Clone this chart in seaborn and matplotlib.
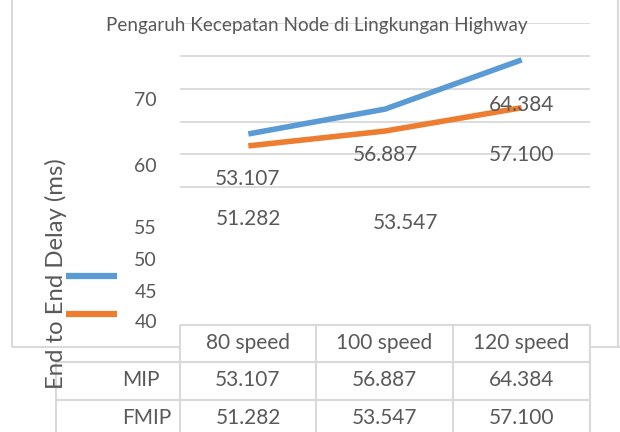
import matplotlib
matplotlib.use("Agg")
import matplotlib.pyplot as plt
from matplotlib.lines import Line2D
import seaborn as sns
import pandas as pd

# ---- data ----
categories = ["80 speed", "100 speed", "120 speed"]
series_names = ["MIP", "FMIP"]
mip_values = [53.107, 56.887, 64.384]
fmip_values = [51.282, 53.547, 57.100]
ytick_values = [45, 50, 55, 60, 65, 70]
ytick_labels = ["70", "60", "55", "50", "45", "40"]
title = "Pengaruh Kecepatan Node di Lingkungan Highway"
ylabel = "End to End Delay (ms)"

colors = ["#5B9BD5", "#ED7D31"]
FONT = ["Lato", "DejaVu Sans"]
TXT = "#595959"
GRID = "#D9D9D9"

sns.set_theme(style="white")
plt.rcParams["font.family"] = FONT

W, H = 620, 432
fig = plt.figure(figsize=(W / 100, H / 100), dpi=100)


def fx(x):
    return x / W


def fy(y):
    return 1 - y / H


def hline(x0, x1, y, color=GRID, lw=1.5, z=1):
    fig.add_artist(Line2D([fx(x0), fx(x1)], [fy(y), fy(y)], transform=fig.transFigure,
                          color=color, lw=lw, zorder=z, solid_capstyle="butt"))


def vline(x, y0, y1, color=GRID, lw=1.5, z=1):
    fig.add_artist(Line2D([fx(x), fx(x)], [fy(y0), fy(y1)], transform=fig.transFigure,
                          color=color, lw=lw, zorder=z, solid_capstyle="butt"))


# plot area: x 180..590, y 23 (70) .. 220 (40)
ax = fig.add_axes([fx(180), fy(220), (590 - 180) / W, (220 - 23) / H])
ax.set_facecolor("none")

df = pd.DataFrame({
    "speed": categories * 2,
    "delay": mip_values + fmip_values,
    "protocol": [series_names[0]] * 3 + [series_names[1]] * 3,
})
sns.lineplot(data=df, x="speed", y="delay", hue="protocol", palette=colors,
             lw=4.0, ax=ax, legend=False, sort=False)
for ln in ax.lines:
    ln.set_solid_capstyle("butt")
    ln.set_solid_joinstyle("round")
    ln.set_clip_on(False)

ax.set_xlim(-0.5, 2.5)
ax.set_ylim(40, 70)
ax.set_yticks(ytick_values)
ax.set_yticklabels([])
ax.set_xticks([])
ax.tick_params(length=0)
ax.grid(axis="y", color=GRID, lw=1.3)
ax.set_axisbelow(True)
for s in ax.spines.values():
    s.set_visible(False)
ax.set_xlabel("")
ax.set_ylabel("")

# outer frame
vline(12, 0, 347)
hline(12, 180, 347)
hline(590, 620, 347)
vline(618, 0, 347)

# title (gridline runs through it, as in the reference)
fig.text(fx(317), fy(25), title, ha="center", va="center", fontsize=13.6, color=TXT,
         zorder=0.5)

# displaced y tick labels
tick_y = [100, 166, 228, 261, 292, 323]
for lab, yy in zip(ytick_labels, tick_y):
    fig.text(fx(157), fy(yy), lab, ha="right", va="center", fontsize=14, color=TXT)

# y label
fig.text(fx(56), fy(274), ylabel, rotation=90, ha="center", va="center",
         fontsize=17.2, color=TXT, zorder=6)

# legend keys
for c, yy in zip(colors, [276, 314]):
    hline(66, 117, yy, color=c, lw=4.5, z=4)

# data labels (displaced)
lab_pos = {
    ("MIP", 0): (248, 179), ("MIP", 1): (385, 155), ("MIP", 2): (522, 105),
    ("FMIP", 0): (248, 219), ("FMIP", 1): (406, 223), ("FMIP", 2): (522, 155),
}
for name, vals in zip(series_names, [mip_values, fmip_values]):
    for i, v in enumerate(vals):
        x, y = lab_pos[(name, i)]
        fig.text(fx(x), fy(y), f"{v:.3f}", ha="center", va="center",
                 fontsize=15, color=TXT, zorder=4)

# data table
cols = [180, 316, 453, 590]
hline(180, 590, 325)
hline(56, 590, 362)
hline(56, 590, 400)
for x in cols:
    vline(x, 325, 432)
vline(56, 362, 432)
centers = [(cols[i] + cols[i + 1]) / 2 for i in range(3)]
for c, cat in zip(centers, categories):
    fig.text(fx(c), fy(343), cat, ha="center", va="center", fontsize=15, color=TXT)
for yy, name, vals in zip([380, 418], series_names, [mip_values, fmip_values]):
    fig.text(fx(122), fy(yy), name, ha="left", va="center", fontsize=15, color=TXT)
    for c, v in zip(centers, vals):
        fig.text(fx(c), fy(yy), f"{v:.3f}", ha="center", va="center", fontsize=15, color=TXT)

fig.savefig("out.png", dpi=100, facecolor="white")
